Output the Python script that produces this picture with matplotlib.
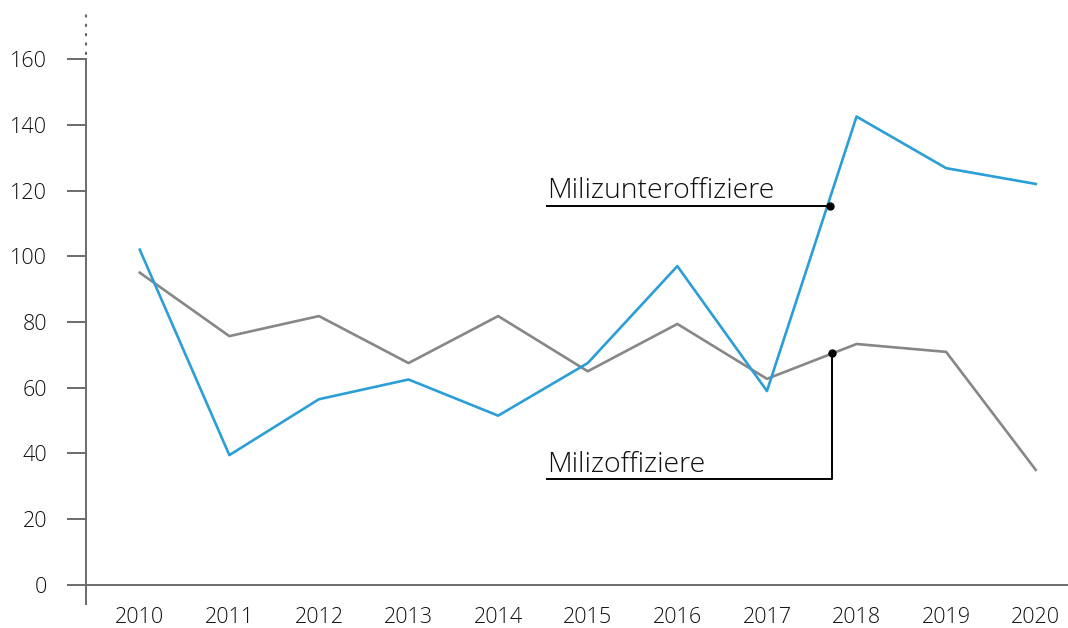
import matplotlib
matplotlib.use("Agg")
import matplotlib.pyplot as plt

plt.rcParams["font.family"] = ["Open Sans", "DejaVu Sans"]
plt.rcParams["font.weight"] = "light"

years = [2010, 2011, 2012, 2013, 2014, 2015, 2016, 2017, 2018, 2019, 2020]
unteroffiziere = [102, 39.5, 56.5, 62.5, 51.5, 67.5, 97, 59, 142.5, 126.8, 122]
offiziere = [95, 75.7, 81.8, 67.5, 81.8, 65, 79.4, 62.7, 73.3, 70.9, 35]
yticks = [0, 20, 40, 60, 80, 100, 120, 140, 160]

blue = "#2b9fd5"
grey = "#878787"
axis_col = "#6b6b6b"

fig = plt.figure(figsize=(10.68, 6.28), dpi=100)
ax = fig.add_axes([86 / 1068, 24 / 628, 982 / 1068, 590 / 628])
ax.set_xlim(2009.4, 2020.36)
ax.set_ylim(-5.8, 173.7)

ax.plot(years, offiziere, color=grey, lw=1.9, zorder=2)
ax.plot(years, unteroffiziere, color=blue, lw=1.9, zorder=3)

# axes
for s in ["top", "right", "bottom"]:
    ax.spines[s].set_visible(False)
ax.spines["left"].set_color(axis_col)
ax.spines["left"].set_linewidth(1.4)
ax.spines["left"].set_bounds(-5.8, 160)
ax.plot([2009.4, 2009.4], [161.5, 173.7], color=axis_col, lw=1.6,
        linestyle=(0, (0.6, 3.6)), dash_capstyle="round", clip_on=False)
ax.axhline(0, color=axis_col, lw=1.4, zorder=1)

ax.set_yticks(yticks)
ax.tick_params(axis="y", direction="out", length=14, width=1.4, color=axis_col,
               labelsize=15.5, labelcolor="#111111", pad=14)
ax.set_xticks(years)
ax.tick_params(axis="x", length=0, labelsize=15.5, labelcolor="#111111", pad=2)

# annotations
ax.plot([2014.55, 2017.7], [115.3, 115.3], color="black", lw=1.4, zorder=4)
ax.plot([2017.7], [115.3], "o", color="black", ms=5, zorder=5)
ax.text(2014.55, 117.6, "Milizunteroffiziere", fontsize=20.5, color="#111111",
        ha="left", va="baseline")

ax.plot([2014.55, 2017.73, 2017.73], [32.2, 32.2, 70.6], color="black", lw=1.4, zorder=4)
ax.plot([2017.73], [70.6], "o", color="black", ms=5, zorder=5)
ax.text(2014.55, 34.5, "Milizoffiziere", fontsize=20.5, color="#111111",
        ha="left", va="baseline")

fig.savefig("out.png", dpi=100)
